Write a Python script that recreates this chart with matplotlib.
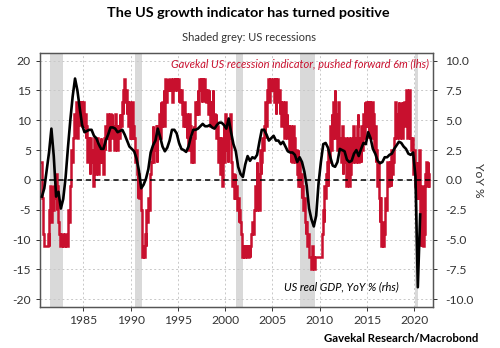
import matplotlib
matplotlib.use("Agg")
import matplotlib.pyplot as plt
import numpy as np

# ---------------- data ----------------
# Gavekal US recession indicator (monthly, lhs), starting Jul 1980
red_start = 1980.5
red_values = [
    3, 1, -3, -9, -11, -11,                                  # 1980 H2
    -11, -11, -11, -9, -11, -5, -1, -7, -3, -1, -5, -1,      # 1981
    -3, 1, -5, -1, -7, -9, -9, -11, -11, -9, -11, -11,       # 1982
    -11, -9, -11, -11, -9, -5, -7, -1, 1, 5, 3, 7,           # 1983
    11, 7, 9, 13, 7, 11, 9, 13, 11, 13, 9, 13,               # 1984
    13, 9, 11, 7, 9, 3, 7, 5, 1, 7, 3, 5,                    # 1985
    -1, 3, 7, 1, 5, 3, 7, 1, 5, 3, 7, 3,                     # 1986
    5, 1, 7, 5, 9, 7, 11, 7, 9, 5, 11, 9,                    # 1987
    11, 7, 9, 5, 11, 7, 9, 5, 9, 7, 11, 9,                   # 1988
    9, 13, 11, 15, 17, 13, 15, 11, 13, 9, 13, 7,             # 1989
    11, 7, 13, 9, 7, 5, 3, 5, 1, -3, 1, -3,                  # 1990
    -1, -5, -9, -13, -11, -13, -9, -11, -5, -7, -3, -5,      # 1991
    -1, 1, 3, 5, 9, 3, 7, 5, 9, 3, 9, 7,                     # 1992
    11, 7, 13, 9, 13, 11, 15, 9, 17, 13, 15, 17,             # 1993
    15, 17, 17, 15, 17, 13, 17, 15, 17, 15, 17, 15,          # 1994
    17, 13, 15, 13, 15, 11, 13, 9, 13, 9, 11, 7,             # 1995
    9, 5, 11, 5, 9, 3, 7, 3, 9, 7, 13, 11,                   # 1996
    13, 15, 11, 17, 15, 17, 13, 17, 15, 17, 13, 15,          # 1997
    13, 15, 11, 15, 13, 9, 13, 11, 15, 9, 11, 9,             # 1998
    11, 7, 9, 3, 7, 5, 1, 7, -1, 5, 9, 3,                    # 1999
    11, 5, 9, 3, 9, 7, 11, 5, 3, -1, 1, -3,                  # 2000
    1, -3, -1, -5, -3, -7, -5, -7, -9, -11, -13, -11,        # 2001
    -13, -11, -13, -11, -13, -13, -11, -13, -11, -9, -7, -9, # 2002
    -7, -5, -1, -5, 3, -3, 1, -5, 5, 1, 3, 7,                # 2003
    5, 9, 7, 13, 9, 15, 13, 17, 13, 17, 15, 17,              # 2004
    15, 17, 13, 17, 11, 15, 17, 13, 15, 11, 13, 9,           # 2005
    13, 9, 11, 7, 13, 9, 11, 7, 9, 5, 9, 3,                  # 2006
    7, 3, 9, 5, 7, 3, 5, 1, 5, -1, 3, -1,                    # 2007
    1, -3, -1, -5, -3, -7, -9, -7, -11, -9, -11, -13,        # 2008
    -13, -15, -11, -15, -13, -15, -13, -13, -13, -13, -13, -13,  # 2009
    -13, -13, -13, -9, -5, -7, -1, -3, 1, 3, -1, 5,          # 2010
    3, 9, 5, 11, 7, 13, 9, 15, 7, 11, 5, 13,                 # 2011
    9, 5, 7, 3, 9, 1, 5, 3, 7, -1, 5, 1,                     # 2012
    7, -1, 5, 1, 7, 3, 9, 5, 7, 3, 5, 9,                     # 2013
    11, 3, 5, 7, 3, 9, 5, 11, 7, 13, 9, 13,                  # 2014
    9, 13, 7, 13, 11, 7, 13, 9, 11, 5, 9, 3,                 # 2015
    5, -1, 3, -3, -7, -3, -11, -7, -11, -7, -9, -3,          # 2016
    -5, -1, 3, -1, 1, 3, -1, 5, 1, 3, 7, 9,                  # 2017
    13, 7, 11, 9, 13, 7, 11, 9, 13, 7, 11, 13,               # 2018
    9, 11, 15, 7, 13, 15, 9, 7, 5, 7, 3, 1,                  # 2019
    5, -1, -3, 3, -3, 1, 5, -7, -11, -3, -1, -11,            # 2020
    -9, -1, 1, 3, -1, 3, 1, -1,                              # 2021
]

# US real GDP YoY % (quarterly, rhs), starting 1980 Q3
gdp_start_year = 1980
gdp_start_q = 3
gdp_values = [
    -1.4, -0.7,                  # 1980
    0.8, 2.3, 4.3, 2.0,          # 1981
    -1.4, -1.0, -2.4, -1.6,      # 1982
    0.2, 2.7, 5.0, 7.0,          # 1983
    8.5, 7.5, 6.0, 4.6,          # 1984
    4.0, 4.1, 4.2, 4.2,          # 1985
    3.7, 3.5, 3.0, 2.6,          # 1986
    2.6, 3.3, 3.8, 4.4,          # 1987
    4.4, 4.3, 4.0, 4.1,          # 1988
    4.2, 3.8, 3.3, 2.8,          # 1989
    2.6, 2.4, 1.8, 0.8,          # 1990
    -0.7, -0.4, 0.1, 0.9,        # 1991
    2.3, 2.9, 3.3, 4.3,          # 1992
    3.6, 2.8, 2.4, 2.7,          # 1993
    3.3, 4.2, 4.2, 3.9,          # 1994
    3.1, 2.6, 2.5, 2.35,         # 1995
    2.8, 3.6, 4.2, 4.2,          # 1996
    4.3, 4.5, 4.7, 4.5,          # 1997
    4.5, 4.6, 4.4, 4.3,          # 1998
    4.6, 4.8, 4.8, 4.6,          # 1999
    4.3, 5.15, 4.0, 3.0,         # 2000
    2.4, 1.1, 0.5, 0.25,         # 2001
    1.3, 2.0, 1.6, 1.9,          # 2002
    1.8, 2.1, 3.2, 4.2,          # 2003
    4.2, 3.8, 3.3, 3.5,          # 2004
    3.7, 3.3, 3.3, 3.0,          # 2005
    3.2, 2.8, 2.4, 2.3,          # 2006
    2.3, 2.1, 1.5, 1.9,          # 2007
    1.5, 0.7, -0.5, -2.4,        # 2008
    -3.3, -3.9, -3.0, -0.3,      # 2009
    1.5, 3.0, 3.1, 2.7,          # 2010
    1.9, 1.2, 1.1, 1.5,          # 2011
    2.6, 2.5, 2.4, 1.7,          # 2012
    1.5, 1.6, 2.2, 2.5,          # 2013
    2.0, 2.6, 3.1, 3.0,          # 2014
    4.0, 3.5, 2.6, 2.2,          # 2015
    1.6, 1.4, 1.5, 1.9,          # 2016
    1.9, 2.1, 2.2, 2.6,          # 2017
    2.9, 3.2, 3.1, 2.8,          # 2018
    2.6, 2.2, 2.1, 2.3,          # 2019
    0.3, -9.0, -2.9,             # 2020
]

# US recessions (decimal years)
rec_start = [1981.5, 1990.5, 2001.15, 2007.9, 2020.1]
rec_end = [1982.87, 1991.17, 2001.85, 2009.45, 2020.4]

left_ticks = [-20, -15, -10, -5, 0, 5, 10, 15, 20]
right_ticks = [-10.0, -7.5, -5.0, -2.5, 0.0, 2.5, 5.0, 7.5, 10.0]
year_ticks = [1985, 1990, 1995, 2000, 2005, 2010, 2015, 2020]

title = "The US growth indicator has turned positive"
subtitle = "Shaded grey: US recessions"
source = "Gavekal Research/Macrobond"
red_label = "Gavekal US recession indicator, pushed forward 6m (lhs)"
black_label = "US real GDP, YoY % (rhs)"

# ---------------- plot ----------------
plt.rcParams['font.family'] = ['Lato', 'DejaVu Sans']
RED = '#c8102e'
TXT = '#333333'

fig = plt.figure(figsize=(5.0, 3.48), dpi=100)
ax = fig.add_axes([0.08, 0.118, 0.786, 0.730])
ax2 = ax.twinx()

ylim_l = 21.3
ax.set_xlim(1980.42, 2021.98)
ax.set_ylim(-ylim_l, ylim_l)
ax2.set_ylim(-ylim_l / 2, ylim_l / 2)

for s, e in zip(rec_start, rec_end):
    ax.axvspan(s, e, color='#d9d9d9', lw=0, zorder=0)

ax.grid(True, color='#c8c8c8', linestyle=(0, (2, 2.5)), lw=0.7, zorder=0.5)

red_x = red_start + np.arange(len(red_values)) / 12.0
ax.plot(red_x, red_values, color=RED, lw=1.8, drawstyle='steps-post',
        zorder=2, solid_joinstyle='miter')

ax.axhline(0, color='black', lw=1.1, linestyle=(0, (3.5, 2.5)), zorder=3)

gdp_x = [gdp_start_year + (gdp_start_q - 1 + i) / 4.0 + 0.125
         for i in range(len(gdp_values))]
ax2.plot(gdp_x, gdp_values, color='black', lw=1.9, zorder=4)

ax.set_yticks(left_ticks)
ax.set_yticklabels([str(v) for v in left_ticks])
ax2.set_yticks(right_ticks)
ax2.set_yticklabels([f"{v:.1f}" for v in right_ticks])
ax.set_xticks(year_ticks)
ax.set_xticklabels([str(y) for y in year_ticks])

for a in (ax, ax2):
    a.tick_params(axis='both', labelsize=8.7, colors=TXT, length=3,
                  width=0.7, direction='out')
    for sp in a.spines.values():
        sp.set_color('#555555')
        sp.set_linewidth(0.9)
ax.tick_params(axis='x', pad=3)
ax2.tick_params(axis='y', pad=6)

ax2.set_ylabel("YoY %", rotation=270, fontsize=8.7, color=TXT, labelpad=7)

ax.text(0.99, 0.955, red_label, transform=ax.transAxes, color=RED,
        fontsize=8, style='italic', ha='right', va='center', zorder=6)
ax.text(0.768, 0.078, black_label, transform=ax.transAxes, color='black',
        fontsize=8, style='italic', ha='center', va='center', zorder=6)

fig.text(0.497, 0.962, title, fontsize=10.4, fontweight='bold', ha='center',
         va='center', color='black')
fig.text(0.497, 0.893, subtitle, fontsize=8, ha='center', va='center',
         color=TXT)
fig.text(0.957, 0.028, source, fontsize=8.2, fontweight='bold', ha='right',
         va='center', color='black')

fig.savefig('out.png', dpi=100)
